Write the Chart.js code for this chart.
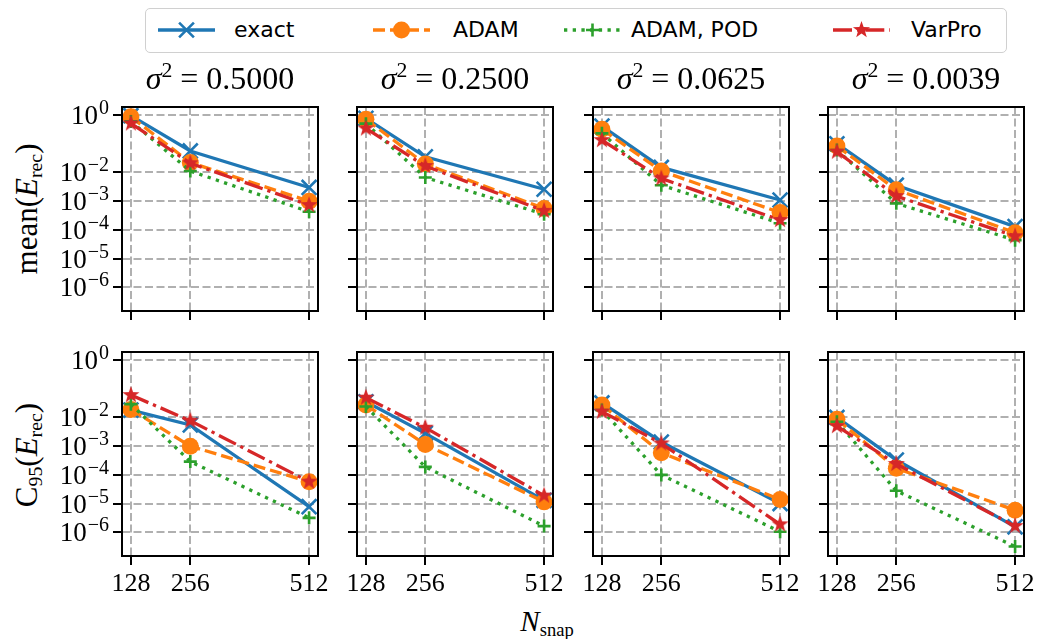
<!DOCTYPE html>
<html>
<head>
<meta charset="utf-8">
<script src="https://cdn.jsdelivr.net/npm/chart.js@4"></script>
<style>
  body { margin: 0; background: #fff; }
  #fig { position: relative; width: 1037px; height: 639px; overflow: hidden; font-family: "Liberation Serif", serif; color: #000; }
  .title { position: absolute; top: 60px; width: 196px; text-align: center; font-size: 32px; line-height: 36px; white-space: nowrap; }
  .title .eq { margin: 0 8px; }
  .ylab { position: absolute; width: 300px; height: 34px; line-height: 34px; text-align: center; font-size: 31px; transform: rotate(-90deg); white-space: nowrap; }
  .xlab { position: absolute; left: 447px; top: 605px; width: 200px; text-align: center; font-size: 29px; line-height: 32px; }
  sub { font-size: 64%; vertical-align: -0.25em; line-height: 0; }
  sup { font-size: 68%; vertical-align: 0.55em; line-height: 0; }
  #legend { position: absolute; left: 145px; top: 8px; width: 860px; height: 43px; border: 1.5px solid #d0d0d0; border-radius: 5px; font-family: "DejaVu Sans", sans-serif; font-size: 22px; }
  .lh { position: absolute; top: 11px; }
  .lt { position: absolute; top: 6px; line-height: 30px; white-space: nowrap; }
</style>
</head>
<body>
<div id="fig">
  <div id="legend"></div>
  <div class="ylab" style="left:-123px;top:192px">mean(<i>E</i><sub>rec</sub>)</div>
  <div class="ylab" style="left:-123px;top:438px">C<sub>95</sub>(<i>E</i><sub>rec</sub>)</div>
  <div class="xlab"><i>N</i><sub>snap</sub></div>
</div>
<script>
const nSnap = [128, 256, 512];
const xTicks = [128, 256, 512];
const yTicks = [1, 1e-2, 1e-3, 1e-4, 1e-5, 1e-6];
const sigmaSq = ['0.5000', '0.2500', '0.0625', '0.0039'];
const seriesNames = ['exact', 'ADAM', 'ADAM, POD', 'VarPro'];

// mean(E_rec): one row per sigma^2 panel, values at N_snap = 128, 256, 512
const meanExact   = [[0.95, 0.056, 0.003], [0.77, 0.035, 0.0026], [0.41, 0.015, 0.0011], [0.10, 0.0036, 1.3e-4]];
const meanAdam    = [[0.87, 0.022, 0.001], [0.71, 0.0196, 5.6e-4], [0.32, 0.0112, 4.0e-4], [0.083, 0.0025, 8.0e-5]];
const meanAdamPod = [[0.6, 0.0112, 4.3e-4], [0.5, 0.0067, 3.5e-4], [0.23, 0.0036, 1.7e-4], [0.06, 8.4e-4, 4.4e-5]];
const meanVarPro  = [[0.51, 0.021, 7.3e-4], [0.34, 0.0167, 4.6e-4], [0.134, 0.0062, 2.2e-4], [0.053, 0.0015, 6.0e-5]];

// C_95(E_rec)
const c95Exact   = [[0.018, 0.0055, 7.8e-6], [0.035, 0.0028, 1.3e-5], [0.032, 0.0014, 1.0e-5], [0.01, 3.3e-4, 1.55e-6]];
const c95Adam    = [[0.019, 0.001, 5.8e-5], [0.027, 0.00115, 1.15e-5], [0.027, 5.9e-4, 1.4e-5], [0.0086, 1.7e-4, 5.9e-6]];
const c95AdamPod = [[0.029, 2.9e-4, 3.2e-6], [0.024, 1.9e-4, 1.65e-6], [0.018, 1.0e-4, 1.05e-6], [0.0071, 2.8e-5, 3.2e-7]];
const c95VarPro  = [[0.06, 0.0077, 5.8e-5], [0.049, 0.0044, 1.9e-5], [0.016, 0.00125, 1.9e-6], [0.005, 2.4e-4, 1.65e-6]];

const COLORS = ['#1f77b4', '#ff7f0e', '#2ca02c', '#d62728'];
const DASHES = [[], [12, 5], [3.3, 5.4], [19, 5, 3.3, 5]];

// panel geometry
const PANEL_LEFT = [122, 357, 593, 828];
const PANEL_TOP = [107, 352];
const PW = 196, PH = 204;
const PADL = 80, PADT = 15, PADR = 25, PADB = 40;

const fig = document.getElementById('fig');

function makeStar(r, color) {
  const c = document.createElement('canvas');
  c.width = c.height = Math.ceil(r * 2 + 2);
  const ctx = c.getContext('2d');
  ctx.translate(c.width / 2, c.height / 2);
  ctx.fillStyle = color;
  ctx.beginPath();
  for (let i = 0; i < 10; i++) {
    const rad = i % 2 ? r * 0.4 : r;
    const a = -Math.PI / 2 + i * Math.PI / 5;
    ctx.lineTo(rad * Math.cos(a), rad * Math.sin(a));
  }
  ctx.closePath();
  ctx.fill();
  return c;
}
const starImg = makeStar(9, COLORS[3]);

const markers = [
  { pointStyle: 'crossRot', radius: 10.5, bw: 2.6 },
  { pointStyle: 'circle', radius: 8.5, bw: 0 },
  { pointStyle: 'cross', radius: 6.5, bw: 2.6 },
  { pointStyle: starImg, radius: 9, bw: 0 }
];

const framePlugin = {
  id: 'frame',
  afterDraw(chart) {
    const a = chart.chartArea, ctx = chart.ctx;
    ctx.save();
    ctx.strokeStyle = '#000';
    ctx.lineWidth = 2;
    ctx.setLineDash([]);
    ctx.strokeRect(a.left, a.top, a.right - a.left, a.bottom - a.top);
    ctx.restore();
  }
};

// y tick labels as 10 with a raised exponent
const powerLabels = {
  id: 'powerLabels',
  afterDraw(chart, args, opts) {
    if (!opts.show) return;
    const y = chart.scales.y, ctx = chart.ctx;
    const right = chart.chartArea.left - 9 - 4;
    ctx.save();
    ctx.fillStyle = '#000';
    ctx.textBaseline = 'alphabetic';
    ctx.textAlign = 'right';
    yTicks.forEach(v => {
      const py = y.getPixelForValue(v);
      const e = Math.round(Math.log10(v));
      const expTxt = e < 0 ? '\u2212' + (-e) : String(e);
      ctx.font = '20px "Liberation Serif"';
      const ew = ctx.measureText(expTxt).width;
      ctx.fillText(expTxt, right, py - 1);
      ctx.font = '27px "Liberation Serif"';
      ctx.fillText('10', right - ew - 1, py + 9);
    });
    ctx.restore();
  }
};

function makePanel(row, col) {
  const W = PW + PADL + PADR, H = PH + PADT + PADB;
  const cv = document.createElement('canvas');
  cv.width = W; cv.height = H;
  cv.style.cssText = `position:absolute;left:${PANEL_LEFT[col] - PADL}px;top:${PANEL_TOP[row] - PADT}px;width:${W}px;height:${H}px`;
  fig.appendChild(cv);

  const src = row === 0
    ? [meanExact, meanAdam, meanAdamPod, meanVarPro]
    : [c95Exact, c95Adam, c95AdamPod, c95VarPro];

  const datasets = seriesNames.map((name, k) => ({
    label: name,
    data: nSnap.map((x, i) => ({ x, y: src[k][col][i] })),
    borderColor: COLORS[k],
    backgroundColor: COLORS[k],
    borderWidth: 3.3,
    borderDash: DASHES[k],
    pointStyle: markers[k].pointStyle,
    pointRadius: markers[k].radius,
    pointBorderWidth: markers[k].bw,
    pointBorderColor: COLORS[k],
    pointBackgroundColor: COLORS[k],
    tension: 0,
    clip: false,
    order: 4 - k
  }));

  const gridOpts = {
    color: '#b0b0b0', lineWidth: 2,
    drawTicks: true, tickLength: 9, tickColor: '#000', tickWidth: 2, tickBorderDash: []
  };

  return new Chart(cv, {
    type: 'line',
    data: { datasets },
    plugins: [framePlugin, powerLabels],
    options: {
      responsive: false,
      animation: false,
      events: [],
      layout: { padding: { left: 0, top: PADT, right: PADR, bottom: 0 } },
      plugins: {
        legend: { display: false },
        tooltip: { enabled: false },
        powerLabels: { show: col === 0 }
      },
      scales: {
        x: {
          type: 'linear', min: 108.8, max: 531.2, bounds: 'data',
          afterBuildTicks: s => { s.ticks = xTicks.map(v => ({ value: v })); },
          afterFit: s => { s.height = PADB; },
          grid: gridOpts,
          border: { display: false, dash: [8, 3.5] },
          ticks: {
            display: row === 1, autoSkip: false, maxRotation: 0, padding: 4,
            color: '#000', font: { family: 'Liberation Serif', size: 26 },
            callback: v => String(v)
          }
        },
        y: {
          type: 'logarithmic', min: 1.5e-7, max: 1.9, bounds: 'data',
          afterBuildTicks: s => { s.ticks = yTicks.map(v => ({ value: v })); },
          afterFit: s => { s.width = PADL; },
          grid: gridOpts,
          border: { display: false, dash: [8, 3.5] },
          ticks: { display: false }
        }
      }
    }
  });
}

for (let r = 0; r < 2; r++) for (let c = 0; c < 4; c++) makePanel(r, c);

sigmaSq.forEach((s, c) => {
  const d = document.createElement('div');
  d.className = 'title';
  d.style.left = PANEL_LEFT[c] + 'px';
  d.innerHTML = `<i>σ</i><sup>2</sup><span class="eq">=</span>${s}`;
  fig.appendChild(d);
});

// legend handles as inline svg
function handleSvg(k) {
  const col = COLORS[k];
  const dash = DASHES[k].length ? `stroke-dasharray="${DASHES[k].join(' ')}"` : '';
  let m = '';
  const cx = 28.5, cy = 10;
  if (k === 0) m = `<path d="M${cx - 7.4} ${cy - 7.4}L${cx + 7.4} ${cy + 7.4}M${cx - 7.4} ${cy + 7.4}L${cx + 7.4} ${cy - 7.4}" stroke="${col}" stroke-width="2.6"/>`;
  if (k === 1) m = `<circle cx="${cx}" cy="${cy}" r="8.5" fill="${col}"/>`;
  if (k === 2) m = `<path d="M${cx - 6.5} ${cy}H${cx + 6.5}M${cx} ${cy - 6.5}V${cy + 6.5}" stroke="${col}" stroke-width="2.6"/>`;
  if (k === 3) {
    const pts = [];
    for (let i = 0; i < 10; i++) {
      const rad = i % 2 ? 3.6 : 9;
      const a = -Math.PI / 2 + i * Math.PI / 5;
      pts.push((cx + rad * Math.cos(a)).toFixed(2) + ',' + (cy + rad * Math.sin(a)).toFixed(2));
    }
    m = `<polygon points="${pts.join(' ')}" fill="${col}"/>`;
  }
  return `<svg width="57" height="20" viewBox="0 0 57 20"><line x1="0" y1="10" x2="57" y2="10" stroke="${col}" stroke-width="3.3" ${dash}/>${m}</svg>`;
}

const legendHandleX = [12, 227, 418, 687];
const legendTextX = [88, 307, 485, 765];
const legend = document.getElementById('legend');
seriesNames.forEach((name, k) => {
  const h = document.createElement('div');
  h.className = 'lh';
  h.style.left = legendHandleX[k] + 'px';
  h.innerHTML = handleSvg(k);
  legend.appendChild(h);
  const t = document.createElement('div');
  t.className = 'lt';
  t.style.left = legendTextX[k] + 'px';
  t.textContent = name;
  legend.appendChild(t);
});
</script>
</body>
</html>
